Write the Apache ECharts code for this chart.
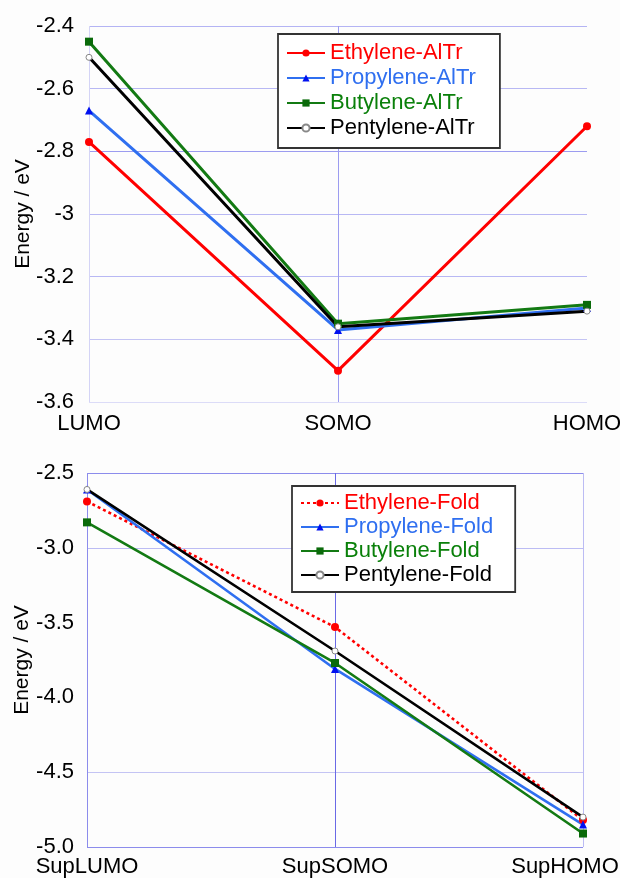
<!DOCTYPE html>
<html>
<head>
<meta charset="utf-8">
<script src="https://cdn.jsdelivr.net/npm/echarts@6/dist/echarts.min.js"></script>
<style>
html,body{margin:0;padding:0;background:#fdfdfd;}
#c{width:620px;height:878px;}
</style>
</head>
<body>
<div id="c"></div>
<script>
// ---- Data ----
var topCategories = ['LUMO', 'SOMO', 'HOMO'];
var topNames = ['Ethylene-AlTr', 'Propylene-AlTr', 'Butylene-AlTr', 'Pentylene-AlTr'];
var ethyleneAlTr = [-2.77, -3.50, -2.72];
var propyleneAlTr = [-2.67, -3.37, -3.30];
var butyleneAlTr = [-2.45, -3.35, -3.29];
var pentyleneAlTr = [-2.50, -3.36, -3.31];

var bottomCategories = ['SupLUMO', 'SupSOMO', 'SupHOMO'];
var bottomNames = ['Ethylene-Fold', 'Propylene-Fold', 'Butylene-Fold', 'Pentylene-Fold'];
var ethyleneFold = [-2.69, -3.53, -4.82];
var propyleneFold = [-2.61, -3.81, -4.85];
var butyleneFold = [-2.83, -3.77, -4.91];
var pentyleneFold = [-2.61, -3.69, -4.80];

var FONT = '"Liberation Sans", Arial, sans-serif';
var RED = '#ff0000', BLUE = '#2f6ff0', GREEN = '#137a13', BLACK = '#000000';
var textColors = ['#ff0000', '#2f6ff0', '#0a800a', '#000000'];

function mkSeries(name, data, xi, color, symbol, symColor, size, lineType, border, width) {
  return {
    name: name, type: 'line', xAxisIndex: xi, yAxisIndex: xi, data: data,
    symbol: symbol, symbolSize: size, showSymbol: true,
    lineStyle: { color: color, width: width || 2.6, type: lineType || 'solid' },
    itemStyle: border ? { color: '#ffffff', borderColor: border, borderWidth: 1 } : { color: symColor },
    emphasis: { disabled: true },
    animation: false
  };
}

var chart = echarts.init(document.getElementById('c'), null, { renderer: 'canvas' });
chart.setOption({
  backgroundColor: '#fdfdfd',
  textStyle: { fontFamily: FONT },
  grid: [
    { left: 89, right: 33, top: 26, height: 376, outerBoundsMode: 'none', containLabel: false },
    { left: 87, right: 37, top: 473, height: 374, outerBoundsMode: 'none', containLabel: false }
  ],
  legend: [
    {
      orient: 'vertical', left: 278, top: 34, padding: [8, 24, 9, 8],
      itemWidth: 38, itemHeight: 9, itemGap: 3,
      borderColor: '#333', borderWidth: 1.8, backgroundColor: '#ffffff',
      data: topNames.map(function (n, i) { return { name: n, textStyle: { color: textColors[i] } }; }),
      textStyle: { fontSize: 22, fontFamily: FONT, lineHeight: 22 }
    },
    {
      orient: 'vertical', left: 292, top: 486, padding: [6, 22, 6, 8],
      itemWidth: 38, itemHeight: 9, itemGap: 2,
      borderColor: '#333', borderWidth: 1.8, backgroundColor: '#ffffff',
      data: bottomNames.map(function (n, i) { return { name: n, textStyle: { color: textColors[i] } }; }),
      textStyle: { fontSize: 22, fontFamily: FONT, lineHeight: 22 }
    }
  ],
  xAxis: [
    {
      type: 'category', gridIndex: 0, data: topCategories, boundaryGap: false,
      axisLine: { show: false }, axisTick: { show: false },
      axisLabel: { fontSize: 22, color: '#000', margin: 11, fontFamily: FONT },
      splitLine: { show: true, lineStyle: { color: ['#d4d4f6', '#9c9cf0', 'rgba(0,0,0,0)'], width: 1 } }
    },
    {
      type: 'category', gridIndex: 1, data: bottomCategories, boundaryGap: false,
      axisLine: { show: false }, axisTick: { show: false },
      axisLabel: {
        fontSize: 22, color: '#000', margin: 9, fontFamily: FONT,
        formatter: function (v, i) { return i === bottomCategories.length - 1 ? '{r|' + v + '}' : v; },
        rich: { r: { fontSize: 22, fontFamily: FONT, color: '#000', padding: [0, 36, 0, 0] } }
      },
      splitLine: { show: true, lineStyle: { color: ['#8c8cec', '#6a6ae6', '#bcbcf4'], width: 1 } }
    }
  ],
  yAxis: [
    {
      type: 'value', gridIndex: 0, min: -3.6, max: -2.4, interval: 0.2,
      name: 'Energy / eV', nameLocation: 'middle', nameGap: 55, nameMoveOverlap: false,
      nameTextStyle: { fontSize: 21, color: '#000', fontFamily: FONT },
      axisLine: { show: false }, axisTick: { show: false },
      axisLabel: { fontSize: 22, color: '#000', margin: 15, fontFamily: FONT,
        formatter: function (v) { return String(Math.round(v * 10) / 10); } },
      splitLine: { show: true, lineStyle: { color: ['#dcdcf8', '#c4c4f4', '#b8b8f4', '#b8b8f4', '#9c9cf0', '#b8b8f4', '#b4b4f4'], width: 1 } }
    },
    {
      type: 'value', gridIndex: 1, min: -5.0, max: -2.5, interval: 0.5,
      name: 'Energy / eV', nameLocation: 'middle', nameGap: 54, nameMoveOverlap: false,
      nameTextStyle: { fontSize: 21, color: '#000', fontFamily: FONT },
      axisLine: { show: false }, axisTick: { show: false },
      axisLabel: { fontSize: 22, color: '#000', margin: 13, fontFamily: FONT,
        formatter: function (v) { return v.toFixed(1); } },
      splitLine: { show: true, lineStyle: { color: ['#8c8cec', '#c4c4f4', 'rgba(0,0,0,0)', 'rgba(0,0,0,0)', '#bcbcf4', '#8c8cec'], width: 1 } }
    }
  ],
  series: [
    mkSeries(topNames[0], ethyleneAlTr, 0, RED, 'circle', RED, 8, 'solid', null, 3),
    mkSeries(topNames[1], propyleneAlTr, 0, BLUE, 'triangle', '#0010f0', 8, 'solid', null, 3),
    mkSeries(topNames[2], butyleneAlTr, 0, GREEN, 'rect', '#0a6a0a', 8, 'solid', null, 3),
    mkSeries(topNames[3], pentyleneAlTr, 0, BLACK, 'circle', '#fff', 6, 'solid', '#888', 3),
    mkSeries(bottomNames[0], ethyleneFold, 1, RED, 'circle', RED, 8, [3, 3]),
    mkSeries(bottomNames[1], propyleneFold, 1, BLUE, 'triangle', '#0010f0', 8),
    mkSeries(bottomNames[2], butyleneFold, 1, GREEN, 'rect', '#0a6a0a', 8),
    mkSeries(bottomNames[3], pentyleneFold, 1, BLACK, 'circle', '#fff', 6, 'solid', '#888')
  ]
});
</script>
</body>
</html>
